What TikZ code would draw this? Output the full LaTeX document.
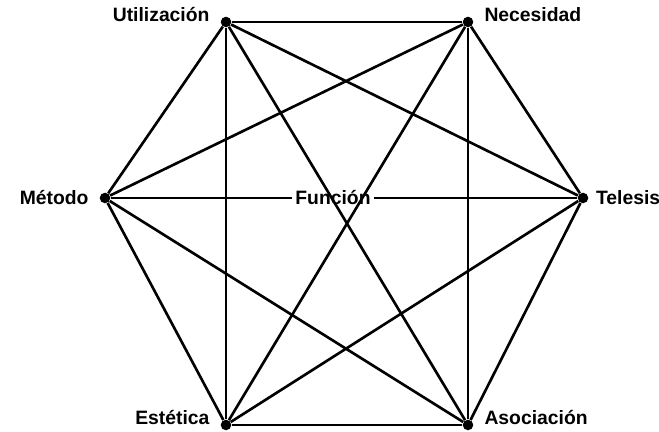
\documentclass[tikz,border=0pt]{standalone}
\usepackage{fontspec}
\setmainfont{Liberation Sans}
\usepackage{tikz}
\usetikzlibrary{positioning}

\begin{document}
\begin{tikzpicture}[
    dot/.style={circle, fill=black, inner sep=0pt, minimum size=6pt},
    lbl/.style={font=\fontsize{11}{13}\selectfont\bfseries, inner sep=1pt},
    edge/.style={line width=1.5pt, black}
]
\useasboundingbox (0,0) rectangle (13.18,8.64);

\node[dot] (util) at (4.52, 8.20) {};
\node[dot] (nec)  at (9.36, 8.20) {};
\node[dot] (met)  at (2.10, 4.68) {};
\node[dot] (tel)  at (11.66, 4.68) {};
\node[dot] (est)  at (4.52, 0.14) {};
\node[dot] (asoc) at (9.36, 0.14) {};

\node[lbl, left=5pt of util, yshift=4pt] {Utilización};
\node[lbl, right=5pt of nec, yshift=4pt] {Necesidad};
\node[lbl, left=5pt of met] {Método};
\node[lbl, right=3pt of tel] {Telesis};
\node[lbl, left=5pt of est, yshift=4pt] {Estética};
\node[lbl, right=5pt of asoc, yshift=4pt] {Asociación};
\node[lbl, inner sep=2pt] (fun) at (6.66, 4.68) {Función};

% el complejo de la funcion: todos con todos
\foreach \a/\b in {util/nec, util/met, util/tel, util/est, util/asoc,
                   nec/met, nec/tel, nec/est, nec/asoc,
                   met/est, met/asoc,
                   tel/est, tel/asoc,
                   est/asoc}
    \draw[edge] (\a) -- (\b);
\draw[edge] (met) -- (fun) -- (tel);
\end{tikzpicture}
\end{document}
